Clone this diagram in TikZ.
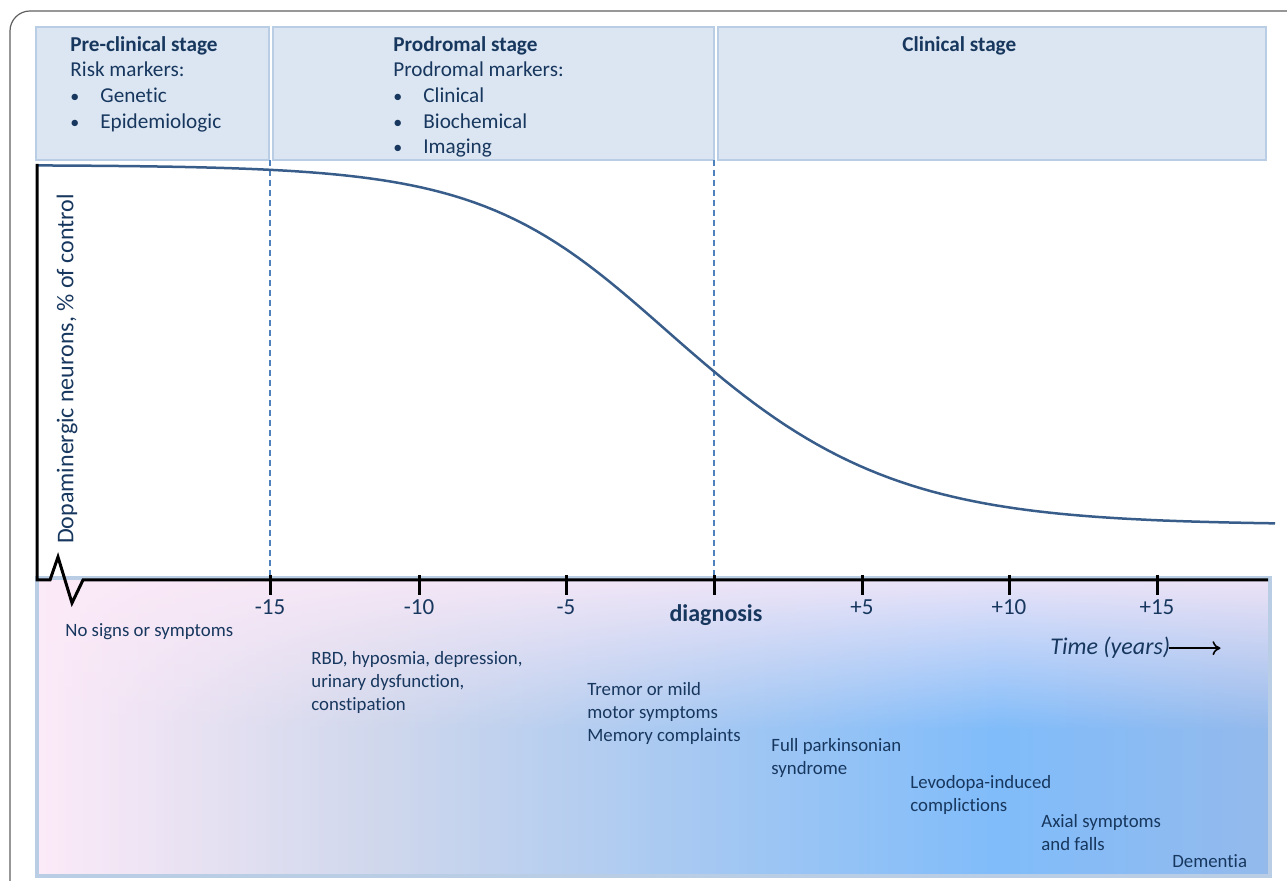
\documentclass[tikz,border=0pt]{standalone}
\usepackage{fontspec}
\setmainfont{Carlito}[Ligatures={NoCommon}]
\usepackage{xcolor}
\definecolor{navytext}{RGB}{23,55,94}
\definecolor{neuronblue}{RGB}{56,93,138}
\definecolor{dashblue}{RGB}{79,129,189}
\definecolor{boxfill}{RGB}{220,230,242}
\definecolor{boxedge}{RGB}{185,205,229}
\definecolor{framegray}{RGB}{95,95,95}
\definecolor{pinkend}{RGB}{252,234,248}
\definecolor{lavender}{RGB}{207,215,236}
\definecolor{midblue}{RGB}{165,200,242}
\definecolor{blueend}{RGB}{128,188,250}
\definecolor{greyblue}{RGB}{148,186,236}
\usepackage{tikz}
\usetikzlibrary{calc}
\usetikzlibrary{fadings}
\usetikzlibrary{arrows.meta}
\newcommand{\widthpre}{116.5pt}
\newcommand{\widthpro}{220.5pt}
\newcommand{\widthcli}{274pt}
\newcommand{\heightstage}{66.5pt}
\newcommand{\bul}{\makebox[15pt][l]{\scalebox{0.85}{\textbullet}}}
\pgfdeclarehorizontalshading{symptomgrad}{100bp}{color(0bp)=(pinkend); color(25bp)=(pinkend);
    color(39bp)=(lavender); color(52bp)=(midblue); color(64bp)=(blueend); color(75bp)=(greyblue);
    color(100bp)=(greyblue)}
\tikzfading[name=fade down, top color=transparent!15, bottom color=transparent!100]
\tikzset{
    common/.style={inner sep=0pt, text=navytext},
    stagebox/.style={anchor=north west, draw=boxedge, fill=boxfill, line width=1pt,
        minimum height=\heightstage, outer sep=0pt},
    stagetext/.style={common, anchor=north west, align=left, font=\fontsize{10.6}{12.8}\selectfont},
    symptom/.style={common, anchor=north west, align=left, font=\fontsize{9.4}{11.4}\selectfont},
    ticklabel/.style={common, anchor=base, font=\fontsize{11.5}{13}\selectfont},
    diaglabel/.style={common, anchor=base, font=\bfseries\fontsize{12}{14}\selectfont},
    timelabel/.style={common, anchor=base west, font=\itshape\fontsize{12}{14}\selectfont},
    ylabel/.style={common, rotate=90, font=\fontsize{12}{14}\selectfont},
    axisline/.style={line width=1.5pt, black},
    tickmark/.style={line width=1.5pt, black},
    neuroncurve/.style={line width=1.25pt, neuronblue},
    stageline/.style={dash pattern=on 3pt off 2pt, line width=0.7pt, dashblue},
    outerframe/.style={line width=0.6pt, framegray, rounded corners=10pt},
    timearrow/.style={-{To[length=4pt, width=7pt]}, line width=0.8pt, black},
    symptomedge/.style={line width=2pt, boxedge}
}
\begin{document}
\begin{tikzpicture}[x=0.5pt, y=-0.5pt]
    \useasboundingbox (0,0) rectangle (1287,881);
    \draw[outerframe] (1287,11) -- (10,11) -- (10,881);

    % symptom band under the time axis
    \shade[shading=symptomgrad] (37,580) rectangle (1270,876);
    \fill[pinkend, path fading=fade down] (37,580) rectangle (1270,730);
    \draw[symptomedge] (37,578) rectangle (1270,876);

    % stages
    \node[stagebox, minimum width=\widthpre] (pre) at (36,27) {};
    \node[stagebox, minimum width=\widthpro] (pro) at (273,27) {};
    \node[stagebox, minimum width=\widthcli] (cli) at (718,27) {};
    \node[stagetext] (pretext) at ([xshift=17pt, yshift=-4.5pt]pre.north west)
        {\textbf{Pre-clinical stage}\\Risk markers:\\\bul Genetic\\\bul Epidemiologic};
    \node[stagetext] (protext) at ([xshift=60pt, yshift=-4.5pt]pro.north west)
        {\textbf{Prodromal stage}\\Prodromal markers:\\\bul Clinical\\\bul Biochemical\\\bul Imaging};
    \node[stagetext] (clitext) at ([xshift=92pt, yshift=-4.5pt]cli.north west) {\textbf{Clinical stage}};

    \draw[stageline] (270,160) -- (270,578);
    \draw[stageline] (714,160) -- (714,578);

    \draw[neuroncurve] plot[domain=37:1275, samples=120]
        (\x, {165+360/(1+exp(-(\x-683)/(96+14/(1+exp(-(\x-683)/80)))))});

    % axes
    \draw[axisline] (37,164) -- (37,580) -- (50,580) -- (58,557) -- (72,603) -- (83,580) -- (1268,580);
    \foreach \x/\lab [count=\i] in {270/-15, 419/-10, 566/-5, 862/+5, 1009/+10, 1157/+15} {
        \draw[tickmark] (\x,575) -- (\x,595);
        \node[ticklabel] (lab\i) at (\x,615) {\lab};
    }
    \draw[tickmark] (714,575) -- (714,595);
    \node[diaglabel] (diag) at (716,622) {diagnosis};

    \node[timelabel] (time) at (1050,655) {Time (years)};
    \path (time.east) ++(25pt,0) coordinate (timeend);
    \draw[timearrow] ([xshift=-1pt]time.east) -- (timeend);

    \node[ylabel] (ylab) at (67,369) {Dopaminergic neurons, \% of control};

    % symptoms
    \node[symptom] (none) at (65,623) {No signs or symptoms};
    \node[symptom] (rbd) at (311,651) {RBD, hyposmia, depression,\\urinary dysfunction,\\constipation};
    \node[symptom] (tremor) at (587,682) {Tremor or mild\\motor symptoms\\Memory complaints};
    \node[symptom] (fullpark) at (771,738) {Full parkinsonian\\syndrome};
    \node[symptom] (levodopa) at (910,775) {Levodopa-induced\\complictions};
    \node[symptom] (axial) at (1041,814) {Axial symptoms\\and falls};
    \node[symptom] (dementia) at (1172,854) {Dementia};
\end{tikzpicture}
\end{document}
